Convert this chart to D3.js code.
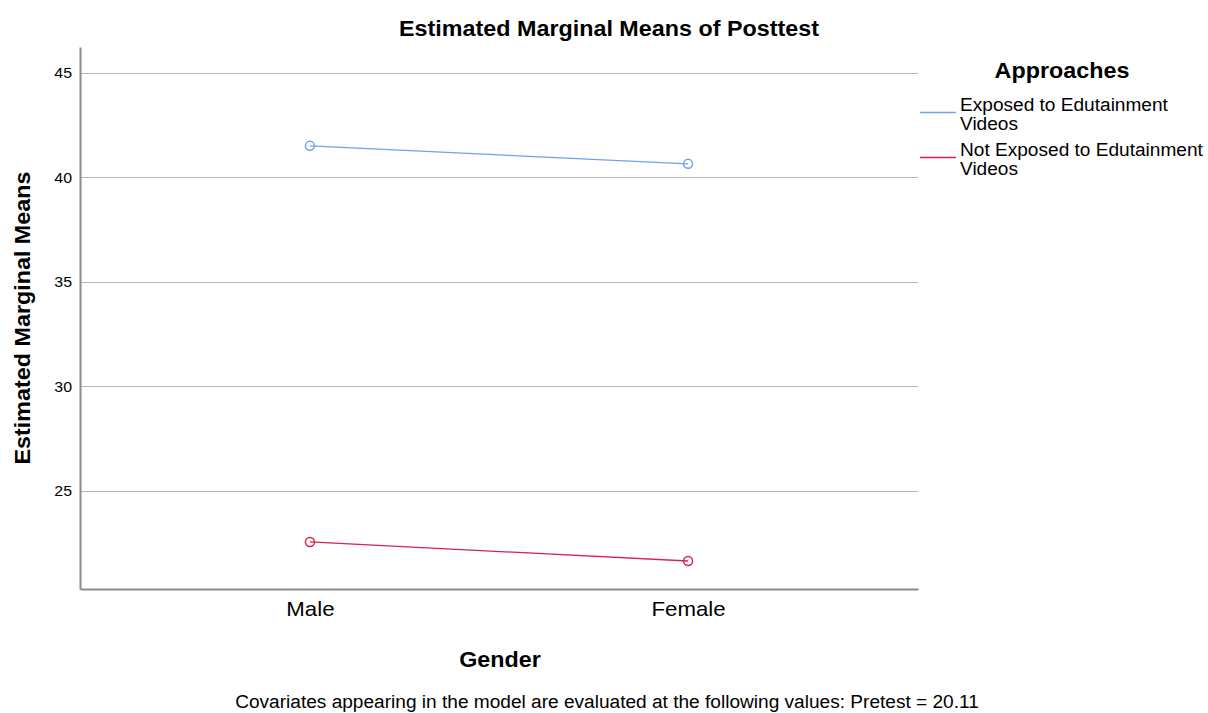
<!DOCTYPE html>
<html>
<head>
<meta charset="utf-8">
<script src="https://cdn.jsdelivr.net/npm/d3@7"></script>
<style>
  body { margin: 0; background: #fff; }
  text { font-family: "Liberation Sans", Arial, sans-serif; fill: #000; }
</style>
</head>
<body>
<script>
// data
var genders = ['Male', 'Female']
var seriesNames = ['Exposed to Edutainment Videos', 'Not Exposed to Edutainment Videos']
var exposedMeans = [41.51, 40.65]
var notExposedMeans = [22.56, 21.65]
var yTicks = [25, 30, 35, 40, 45]

const colors = ['#6fa3ee', '#d6224e']
const gridGray = '#b5b5b5'
const axisGray = '#8c8c8c'
const stretch = 1.06   // reference type is a touch wider than Liberation Sans

var width = 1208, height = 713
var margin = {left: 80, right: 290, top: 47, bottom: 124}

const svg = d3.select('body').append('svg')
    .attr('width', width)
    .attr('height', height)

const x = d3.scalePoint()
    .domain(genders)
    .range([margin.left, width - margin.right])
    .padding(0.608)

const y = d3.scaleLinear()
    .domain([20.31, 46.24])
    .range([height - margin.bottom, margin.top])

// gridlines
svg.append('g').selectAll('line')
    .data(yTicks)
    .join('line')
    .attr('x1', margin.left)
    .attr('x2', width - margin.right)
    .attr('y1', d => Math.round(y(d)) + 0.5)
    .attr('y2', d => Math.round(y(d)) + 0.5)
    .attr('stroke', gridGray)
    .attr('stroke-width', 1)

// y axis
const yAxis = svg.append('g')
    .attr('transform', `translate(${margin.left}, 0)`)
    .call(d3.axisLeft(y).tickValues(yTicks).tickSize(0).tickPadding(8))
yAxis.select('.domain').attr('stroke', axisGray).attr('stroke-width', 2)
yAxis.selectAll('text').attr('font-size', '15px').attr('fill', '#222')
    .attr('font-family', '"Liberation Sans", Arial, sans-serif')

// x axis
const xAxis = svg.append('g')
    .attr('transform', `translate(0, ${height - margin.bottom})`)
    .call(d3.axisBottom(x).tickSize(0).tickPadding(12))
xAxis.select('.domain').attr('stroke', axisGray).attr('stroke-width', 2)
xAxis.selectAll('text').attr('font-size', '21px').attr('fill', '#222')
    .attr('font-family', '"Liberation Sans", Arial, sans-serif')

// series
const series = [exposedMeans, notExposedMeans]
const line = d3.line().x((d, i) => x(genders[i])).y(d => y(d))

series.forEach((vals, k) => {
    svg.append('path')
        .attr('d', line(vals))
        .attr('fill', 'none')
        .attr('stroke', colors[k])
        .attr('stroke-width', 1.3)
    svg.append('g').selectAll('circle')
        .data(vals)
        .join('circle')
        .attr('cx', (d, i) => x(genders[i]))
        .attr('cy', d => y(d))
        .attr('r', 4.5)
        .attr('fill', 'none')
        .attr('stroke', colors[k])
        .attr('stroke-width', 1.5)
})

// titles
svg.append('text')
    .attr('x', 609).attr('y', 36)
    .attr('text-anchor', 'middle')
    .attr('font-size', '22px').attr('font-weight', 'bold')
    .text('Estimated Marginal Means of Posttest')

svg.append('text')
    .attr('transform', `translate(30, ${(margin.top + height - margin.bottom) / 2}) rotate(-90)`)
    .attr('text-anchor', 'middle')
    .attr('font-size', '22px').attr('font-weight', 'bold')
    .text('Estimated Marginal Means')

svg.append('text')
    .attr('x', 500).attr('y', 667)
    .attr('text-anchor', 'middle')
    .attr('font-size', '22px').attr('font-weight', 'bold')
    .text('Gender')

svg.append('text')
    .attr('x', 607).attr('y', 708)
    .attr('text-anchor', 'middle')
    .attr('font-size', '18px')
    .text('Covariates appearing in the model are evaluated at the following values: Pretest = 20.11')

// legend
const legend = svg.append('g')
legend.append('text')
    .attr('x', 1062).attr('y', 78)
    .attr('text-anchor', 'middle')
    .attr('font-size', '22px').attr('font-weight', 'bold')
    .text('Approaches')

seriesNames.forEach((name, k) => {
    const top = 105 + k * 45
    legend.append('line')
        .attr('x1', 920).attr('x2', 956)
        .attr('y1', top + 7.5).attr('y2', top + 7.5)
        .attr('stroke', colors[k]).attr('stroke-width', 1.5)
    const words = name.split(' ')
    const t = legend.append('text').attr('font-size', '18px')
    t.append('tspan').attr('x', 960).attr('y', top + 6).text(words.slice(0, -1).join(' '))
    t.append('tspan').attr('x', 960).attr('y', top + 25).text(words[words.length - 1])
})

// widen every label slightly to match the reference lettering
svg.selectAll('text').each(function () {
    const el = d3.select(this)
    if (!el.selectAll('tspan').empty()) {
        el.selectAll('tspan').each(function () {
            const w = this.getComputedTextLength()
            d3.select(this).attr('textLength', w * stretch).attr('lengthAdjust', 'spacingAndGlyphs')
        })
    } else {
        const w = this.getComputedTextLength()
        el.attr('textLength', w * stretch).attr('lengthAdjust', 'spacingAndGlyphs')
    }
})
</script>
</body>
</html>
